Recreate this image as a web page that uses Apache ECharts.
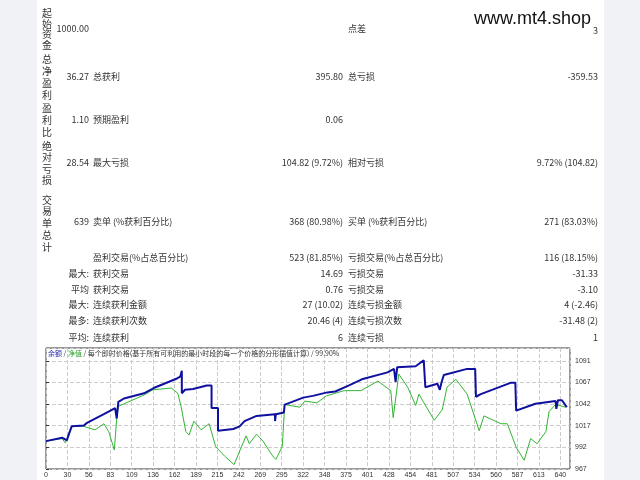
<!DOCTYPE html>
<html><head><meta charset="utf-8">
<script src="https://cdn.jsdelivr.net/npm/echarts@6/dist/echarts.min.js"></script>
<style>html,body{margin:0;padding:0;background:#fff}#c{width:640px;height:480px}</style>
</head><body><div id="c"></div>
<script>
const xTickLabels=['0','30','56','83','109','136','162','189','215','242','269','295','322','348','375','401','428','454','481','507','534','560','587','613','640'];
const yTickLabels=['967','992','1017','1042','1067','1091'];
const balanceX=[0,20,26,28,32,47,51,72,86,88,88,89,90,97,122,134,163,167,169,169,173,183,200,206,206,214,214,233,241,247,262,285,285,286,296,297,303,320,332,350,360,377,393,425,433,435,437,460,470,472,487,490,492,495,524,534,535,541,578,584,585,609,634,635,637,642,648];
const balanceY=[999,1003,1000,1006,1016,1017,1020,1030,1037,1038,1025,1025,1044,1048,1054,1060,1071,1073,1080,1054,1058,1059,1063,1063,1037,1037,1011,1013,1016,1022,1028,1030,1022,1030,1032,1041,1043,1049,1051,1055,1056,1063,1070,1078,1082,1067,1084,1085,1092,1061,1065,1058,1066,1075,1082,1082,1050,1053,1066,1066,1034,1042,1045,1036,1046,1046,1038];
const equityX=[0,20,24,28,32,47,61,72,78,85,88,90,122,133,156,164,168,174,178,184,193,203,211,222,234,243,249,253,262,270,282,286,294,297,316,322,337,349,360,371,392,413,429,432,439,450,460,464,483,493,499,510,524,539,545,566,574,585,595,603,611,622,626,634,647];
const equityY=[999,1002,997,1004,1016,1016,1012,1019,1010,989,1025,1039,1052,1058,1060,1054,1039,1010,1006,1022,1012,1019,993,982,972,992,1005,996,1007,999,982,978,993,1041,1038,1045,1043,1051,1054,1057,1057,1068,1057,1026,1076,1061,1040,1053,1023,1035,1061,1070,1053,1011,1028,1019,1019,992,977,1002,996,1010,1033,1041,1038];
const pair=(xs,ys)=>xs.map((x,i)=>[x,ys[i]]);

const F="'Noto Sans CJK SC','DejaVu Sans',sans-serif";
const T=(x,y,text,align,extra)=>Object.assign({type:'text',x:x,y:y,style:{text:text,font:'9px '+F,fill:'#333',textAlign:align||'left',textVerticalAlign:'middle'}},extra||{});
const vert=(x,y0,str,step)=>str.split('').map((ch,i)=>({type:'text',x:x,y:y0+i*step,style:{text:ch,font:'10px '+F,fill:'#333',textAlign:'center',textVerticalAlign:'middle'}}));
const L1=93,R1=343,L2=348,R2=598,V=89;
const g=[
 {type:'rect',shape:{x:0,y:0,width:37,height:480},style:{fill:'#f1f2f5'}},
 {type:'rect',shape:{x:604,y:0,width:36,height:480},style:{fill:'#f1f2f5'}},
 ...vert(47,13,'起始资金',10.8),T(V,29,'1000.00','right'),T(L2,29,'点差'),T(R2,31,'3','right'),
 {type:'text',x:591,y:19,style:{text:'www.mt4.shop',font:'18px Arial,"Liberation Sans",sans-serif',fill:'#111',textAlign:'right',textVerticalAlign:'middle'}},
 ...vert(47,59,'总净盈利',12),T(V,77,'36.27','right'),T(L1,77,'总获利'),T(R1,77,'395.80','right'),T(L2,77,'总亏损'),T(R2,77,'-359.53','right'),
 ...vert(47,108,'盈利比',12),T(V,120,'1.10','right'),T(L1,120,'预期盈利'),T(R1,120,'0.06','right'),
 ...vert(47,146,'绝对亏损',11.5),T(V,163,'28.54','right'),T(L1,163,'最大亏损'),T(R1,163,'104.82 (9.72%)','right'),T(L2,163,'相对亏损'),T(R2,163,'9.72% (104.82)','right'),
 ...vert(47,200,'交易单总计',11.7),T(V,222,'639','right'),T(L1,222,'卖单 (%获利百分比)'),T(R1,222,'368 (80.98%)','right'),T(L2,222,'买单 (%获利百分比)'),T(R2,222,'271 (83.03%)','right'),
 T(L1,258,'盈利交易(%占总百分比)'),T(R1,258,'523 (81.85%)','right'),T(L2,258,'亏损交易(%占总百分比)'),T(R2,258,'116 (18.15%)','right'),
 T(V,274,'最大:','right'),T(L1,274,'获利交易'),T(R1,274,'14.69','right'),T(L2,274,'亏损交易'),T(R2,274,'-31.33','right'),
 T(V,290,'平均','right'),T(L1,290,'获利交易'),T(R1,290,'0.76','right'),T(L2,290,'亏损交易'),T(R2,290,'-3.10','right'),
 T(V,305,'最大:','right'),T(L1,305,'连续获利金额'),T(R1,305,'27 (10.02)','right'),T(L2,305,'连续亏损金额'),T(R2,305,'4 (-2.46)','right'),
 T(V,321,'最多:','right'),T(L1,321,'连续获利次数'),T(R1,321,'20.46 (4)','right'),T(L2,321,'连续亏损次数'),T(R2,321,'-31.48 (2)','right'),
 T(V,338,'平均:','right'),T(L1,338,'连续获利'),T(R1,338,'6','right'),T(L2,338,'连续亏损'),T(R2,338,'1','right'),
 {type:'text',x:48,y:353,z:10,style:{text:'{b|余额} / {g|净值} / 每个即时价格(基于所有可利用的最小时段的每一个价格的分形插值计算) / 99.90%',font:'7px '+F,fill:'#333',textVerticalAlign:'middle',rich:{b:{fill:'#2a2ab0',font:'7px '+F},g:{fill:'#2aa02a',font:'7px '+F}}}}
];
const xi=640/24;
const chart=echarts.init(document.getElementById('c'));
chart.setOption({
 animation:false,
 graphic:g,
 grid:{left:46,right:70,top:348,bottom:11,show:true,borderColor:'#333',borderWidth:1,backgroundColor:'#fff'},
 xAxis:{type:'value',min:0,max:652,interval:xi,
   axisLine:{show:false},axisTick:{show:false},
   axisLabel:{fontSize:7,color:'#333',margin:3,showMaxLabel:false,formatter:v=>{const i=Math.round(v/xi);return (i>=0&&i<xTickLabels.length&&Math.abs(v-i*xi)<0.5)?xTickLabels[i]:'';}},
   splitLine:{show:true,lineStyle:{color:'#ccc',type:'dashed'}}},
 yAxis:{type:'value',position:'right',min:967,max:1106,interval:24.85,
   axisLine:{show:false},axisTick:{show:true,length:3,lineStyle:{color:'#333'}},
   axisLabel:{fontSize:7,color:'#333',margin:5,showMaxLabel:false,formatter:v=>{const i=Math.round((v-967)/24.85);return yTickLabels[i]||'';}},
   splitLine:{show:true,lineStyle:{color:'#ccc',type:'dashed'}}},
 series:[
  {type:'line',data:pair(equityX,equityY),showSymbol:false,lineStyle:{color:'#33b533',width:1},z:2},
  {type:'line',data:pair(balanceX,balanceY),showSymbol:false,lineStyle:{color:'#1010a0',width:2},z:3}
 ]
});
</script></body></html>
